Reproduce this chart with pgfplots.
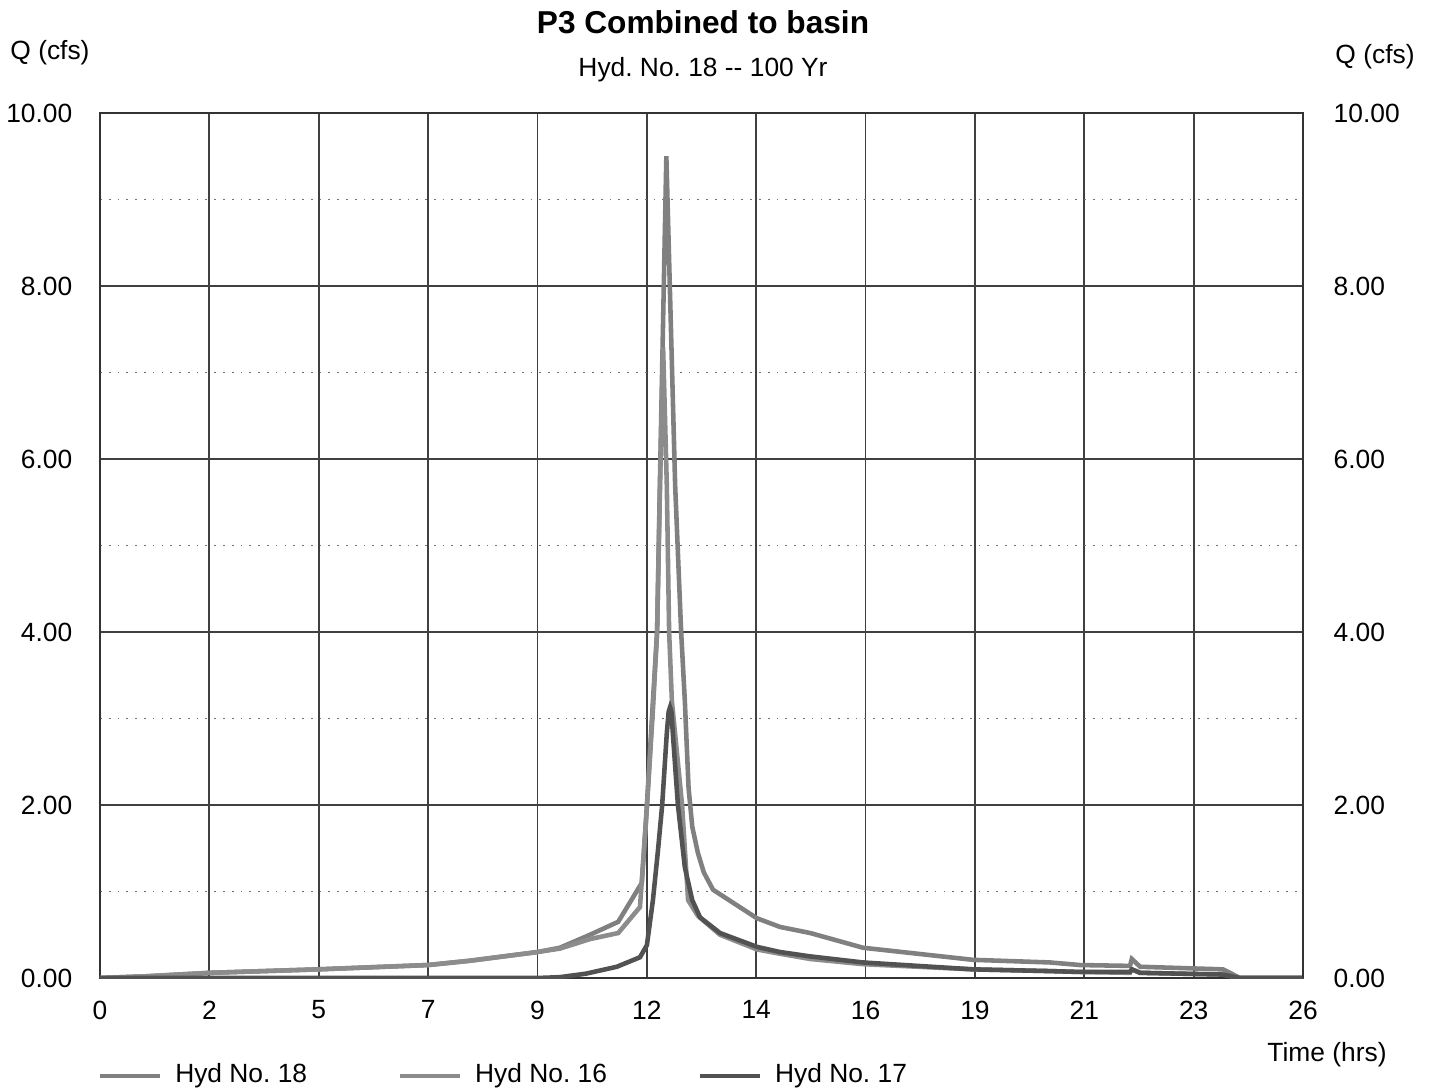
\documentclass[border=0pt]{standalone}
\usepackage{fontspec}
\setmainfont{Liberation Sans}
\usepackage{pgfplots}
\pgfplotsset{compat=1.18}
\frenchspacing
\newcommand\lab{\fontsize{7.5pt}{9pt}\selectfont}
\colorlet{cA}{black!50}
\colorlet{cB}{black!45}
\colorlet{cC}{black!68}
\begin{document}
\begin{tikzpicture}
\path[use as bounding box] (-10mm,-11.3mm) rectangle (133.3mm,97.8mm);
\begin{axis}[at={(0,0)}, anchor=south west, scale only axis,
  width=120.3mm, height=86.5mm,
  xmin=0, xmax=26, ymin=0, ymax=10,
  xtick={0,2.3636,4.7273,7.0909,9.4545,11.8182,14.1818,16.5455,18.9091,21.2727,23.6364,26},
  xticklabels={0,2,5,7,9,12,14,16,19,21,23,26},
  ytick={0,2,4,6,8,10}, minor y tick num=1,
  xmajorgrids, ymajorgrids, yminorgrids,
  major grid style={black!75, line width=0.5pt},
  minor grid style={black!55, line width=0.5pt, dotted},
  major tick length=0pt, minor tick length=0pt,
  axis line style={black!80, line width=0.6pt},
  /pgf/number format/assume math mode=true,
  yticklabel style={font=\lab, anchor=east, inner sep=0pt, xshift=-2.7mm, /pgf/number format/fixed, /pgf/number format/fixed zerofill, /pgf/number format/precision=2},
  xticklabel style={font=\lab, anchor=north, inner sep=0pt, yshift=-2.2mm},
  legend columns=3,
  legend style={at={(-0.0025,-0.1133)}, anchor=west, draw=none, fill=none, font=\lab, inner sep=0pt,
    nodes={inner sep=0pt},
    /tikz/every even column/.append style={column sep=9.05mm},
    /tikz/every odd column/.append style={column sep=1.3mm}},
  legend image code/.code={\draw[#1] (0mm,0mm) -- (6mm,0mm);},
]
\addplot[cA, line width=1.3pt] coordinates {
(0,0) (1,0.02) (2.38,0.06) (4.71,0.1) (7.09,0.15) (8,0.2) (9.45,0.3) (9.94,0.35) (10.59,0.5) (11.2,0.65) (11.71,1.1)
(11.82,2.0) (11.95,3.2) (12.04,4.0) (12.10,5.7) (12.24,9.5) (12.43,5.7) (12.56,4.0) (12.64,3.2) (12.72,2.2) (12.80,1.75) (12.92,1.45)
(13.05,1.22) (13.25,1.02) (14.2,0.69) (14.7,0.59) (15.35,0.52) (16.49,0.35) (18.87,0.21) (20.53,0.18) (21.18,0.15) (22.26,0.14)
(22.30,0.22) (22.48,0.13) (24.27,0.1) (24.64,0) (26,0)};
\addlegendentry{Hyd No. 18}
\addplot[cB, line width=1.3pt] coordinates {
(0,0) (1,0.02) (2.38,0.06) (4.71,0.1) (7.09,0.15) (8,0.2) (9.45,0.3) (9.94,0.34) (10.59,0.45) (11.2,0.52) (11.67,0.82)
(11.8,1.8) (11.95,3.1) (12.04,4.0) (12.10,5.6) (12.17,7.29) (12.25,5.7) (12.30,4.0) (12.36,3.2) (12.58,2.0) (12.71,0.9)
(12.92,0.72) (13.4,0.5) (14.2,0.33) (14.7,0.28) (15.35,0.22) (16.49,0.16) (18.87,0.1) (20.53,0.08) (21.18,0.07)
(22.26,0.06) (22.30,0.1) (22.48,0.06) (24.27,0.04) (24.64,0) (26,0)};
\addlegendentry{Hyd No. 16}
\addplot[cC, line width=1.3pt] coordinates {
(0,0) (8,0) (9.45,0) (9.94,0.01) (10.5,0.05) (11.17,0.13) (11.67,0.24) (11.82,0.38) (11.95,0.9) (12.06,1.48) (12.15,2.0)
(12.25,2.83) (12.29,3.08) (12.32,3.13) (12.35,3.08) (12.38,2.83) (12.49,2.0) (12.64,1.28) (12.80,0.9) (12.97,0.7) (13.4,0.52) (14.2,0.36)
(14.7,0.3) (15.35,0.25) (16.49,0.18) (18.87,0.1) (20.53,0.08) (21.18,0.07) (22.26,0.07) (22.30,0.1) (22.48,0.06)
(24.27,0.04) (24.64,0) (26,0)};
\addlegendentry{Hyd No. 17}
\end{axis}
\begin{axis}[at={(0,0)}, anchor=south west, scale only axis,
  width=120.3mm, height=86.5mm,
  xmin=0, xmax=26, ymin=0, ymax=10,
  axis x line=none, axis y line*=right,
  axis line style={black!80, line width=0.6pt},
  ytick={0,2,4,6,8,10}, major tick length=0pt,
  /pgf/number format/assume math mode=true,
  yticklabel style={font=\lab, anchor=west, inner sep=0pt, xshift=3mm, /pgf/number format/fixed, /pgf/number format/fixed zerofill, /pgf/number format/precision=2},
]
\addplot[draw=none] coordinates {(0,0)};
\end{axis}
\node[font=\fontsize{9pt}{11pt}\selectfont\bfseries] at (60.3mm,95.6mm) {P3 Combined to basin};
\node[font=\lab] at (60.3mm,90.8mm) {Hyd. No. 18 -{}- 100 Yr};
\node[font=\lab] at (-5mm,92.5mm) {Q (cfs)};
\node[font=\lab] at (127.5mm,92.1mm) {Q (cfs)};
\node[font=\lab] at (122.7mm,-7.7mm) {Time (hrs)};
\end{tikzpicture}
\end{document}
